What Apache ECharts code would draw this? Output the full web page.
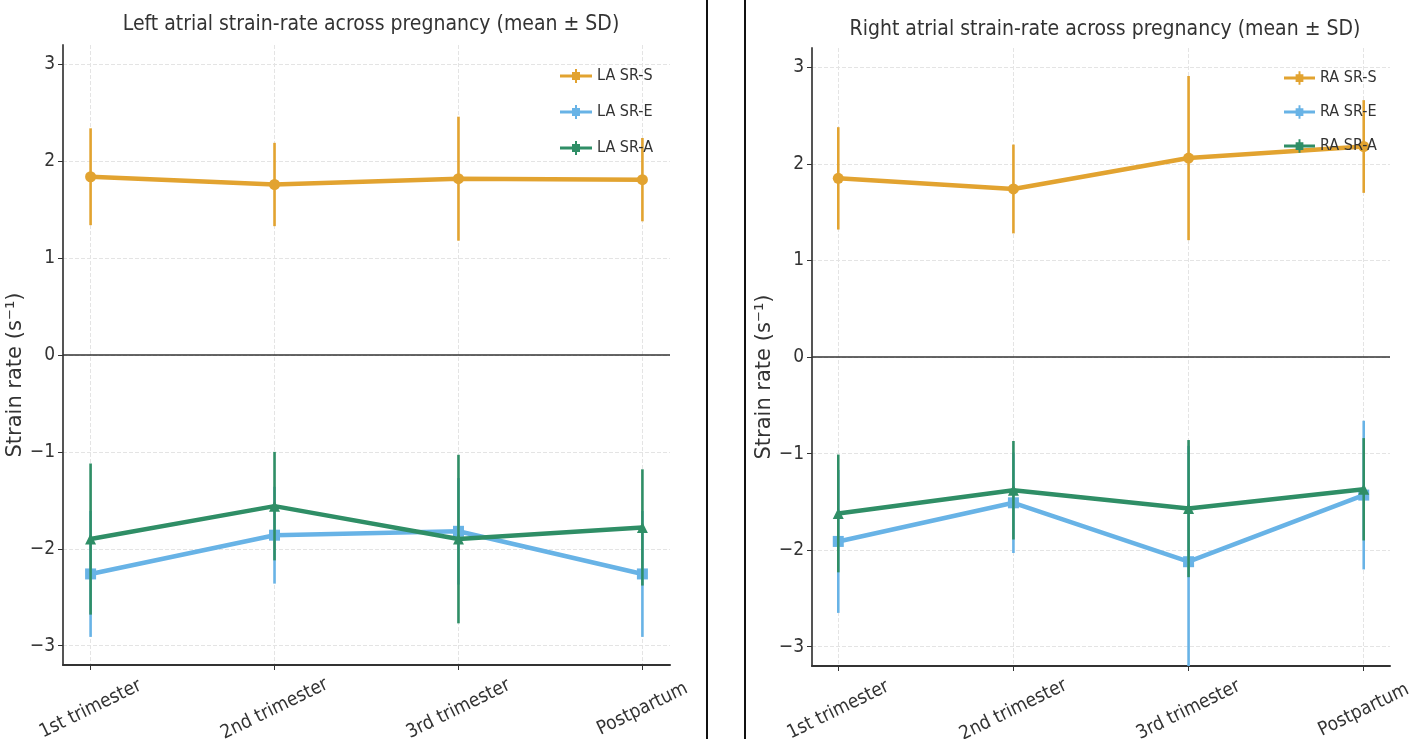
<!DOCTYPE html>
<html><head><meta charset="utf-8">
<script src="https://cdn.jsdelivr.net/npm/echarts@6/dist/echarts.min.js"></script>
<style>html,body{margin:0;padding:0;background:#fff}#c{width:1420px;height:739px}</style>
</head><body><div id="c"></div>
<script>
const categories = ['1st trimester','2nd trimester','3rd trimester','Postpartum'];
const yTicks = [-3,-2,-1,0,1,2,3];
const xTicks = [0,1,2,3];
const laNames = ['LA SR-S','LA SR-E','LA SR-A'];
const raNames = ['RA SR-S','RA SR-E','RA SR-A'];
const laS_mean = [1.84,1.76,1.82,1.81];
const laS_sd   = [0.50,0.43,0.64,0.43];
const laE_mean = [-2.26,-1.86,-1.82,-2.26];
const laE_sd   = [0.65,0.50,0.55,0.65];
const laA_mean = [-1.90,-1.56,-1.90,-1.78];
const laA_sd   = [0.78,0.56,0.87,0.60];
const raS_mean = [1.85,1.74,2.06,2.18];
const raS_sd   = [0.53,0.46,0.85,0.48];
const raE_mean = [-1.91,-1.51,-2.12,-1.43];
const raE_sd   = [0.74,0.52,1.20,0.77];
const raA_mean = [-1.62,-1.38,-1.57,-1.37];
const raA_sd   = [0.61,0.51,0.71,0.53];

const colors = ['#E2A330','#68B3E6','#2F8E66'];
const symbols = ['circle','rect','triangle'];
const condensed = "'DejaVu Sans Condensed','Liberation Sans Narrow','DejaVu Sans',sans-serif";
const Y_MIN = -3.2, Y_MAX = 3.2;
const legendIcon = 'path://M0,5.5L32,5.5L32,8.5L0,8.5Z M15,0L17,0L17,14L15,14Z M12,3L20,3L20,11L12,11Z';

function panelSeries(gi, names, means, sds) {
  const out = [];
  names.forEach((nm, k) => {
    const m = means[k], s = sds[k];
    out.push({
      type: 'custom', xAxisIndex: gi, yAxisIndex: gi, z: 2 + k * 2, silent: true,
      data: m.map((v, i) => [i, v - s[i], v + s[i]]),
      renderItem: (params, api) => {
        const x = api.value(0);
        const lo = Math.max(api.value(1), Y_MIN), hi = Math.min(api.value(2), Y_MAX);
        const p1 = api.coord([x, lo]), p2 = api.coord([x, hi]);
        return { type: 'line', shape: { x1: p1[0], y1: p1[1], x2: p2[0], y2: p2[1] },
                 style: { stroke: colors[k], lineWidth: 2.6 } };
      }
    });
    const line = {
      type: 'line', name: nm, xAxisIndex: gi, yAxisIndex: gi, z: 3 + k * 2,
      data: m.map((v, i) => [i, v]),
      symbol: symbols[k], symbolSize: 11, showSymbol: true,
      itemStyle: { color: colors[k] }, lineStyle: { color: colors[k], width: 4.5 },
      emphasis: { disabled: true }, silent: true, animation: false
    };
    if (k === 0) {
      line.markLine = { silent: true, symbol: 'none', label: { show: false },
        lineStyle: { color: '#333', width: 1.6, type: 'solid' }, data: [{ yAxis: 0 }] };
    }
    out.push(line);
  });
  return out;
}

function xAxis(gi) {
  return {
    type: 'value', gridIndex: gi, min: -0.15, max: 3.15,
    axisLine: { show: true, onZero: false, lineStyle: { color: '#333', width: 2 } },
    axisTick: { show: true, length: 5, customValues: xTicks, lineStyle: { color: '#333' } },
    axisLabel: { customValues: xTicks, formatter: v => categories[v], rotate: 26,
      align: 'center', verticalAlign: 'middle', margin: 44,
      fontFamily: condensed, fontSize: 19, color: '#333' },
    splitLine: { show: true, lineStyle: { color: '#e4e4e4', type: 'dashed', width: 1 } }
  };
}
function yAxis(gi, gap) {
  return {
    type: 'value', gridIndex: gi, min: Y_MIN, max: Y_MAX,
    name: 'Strain rate (s\u207B\u00B9)', nameLocation: 'middle', nameGap: gap, nameRotate: 90,
    nameTextStyle: { fontFamily: "'DejaVu Sans',sans-serif", fontSize: 21, color: '#333', padding: [0, 40, 0, 0] },
    axisLine: { show: true, onZero: false, lineStyle: { color: '#555', width: 2 } },
    axisTick: { show: true, length: 5, customValues: yTicks, lineStyle: { color: '#333' } },
    axisLabel: { customValues: yTicks, formatter: v => String(v).replace('-', '\u2212'),
      fontFamily: condensed, fontSize: 19, color: '#333', margin: 8 },
    splitLine: { show: true, lineStyle: { color: '#e4e4e4', type: 'dashed', width: 1 } }
  };
}

const chart = echarts.init(document.getElementById('c'));
chart.setOption({
  animation: false,
  backgroundColor: '#fff',
  color: colors,
  title: [
    { text: 'Left atrial strain-rate across pregnancy (mean \u00B1 SD)', left: 366, top: 9, textAlign: 'center',
      textStyle: { fontFamily: condensed, fontSize: 21, fontWeight: 'normal', color: '#333' } },
    { text: 'Right atrial strain-rate across pregnancy (mean \u00B1 SD)', left: 1100, top: 14, textAlign: 'center',
      textStyle: { fontFamily: condensed, fontSize: 21, fontWeight: 'normal', color: '#333' } }
  ],
  grid: [
    { left: 63, top: 45, width: 607, height: 620, outerBoundsMode: 'none', containLabel: false },
    { left: 812, top: 48, width: 578, height: 618, outerBoundsMode: 'none', containLabel: false }
  ],
  xAxis: [xAxis(0), xAxis(1)],
  yAxis: [yAxis(0, 32), yAxis(1, 26)],
  legend: [
    { data: laNames.map(n => ({ name: n, icon: legendIcon })), orient: 'vertical', left: 560, top: 68, padding: 0,
      itemWidth: 32, itemHeight: 14, itemGap: 20, selectedMode: false,
      textStyle: { fontFamily: condensed, fontSize: 16, color: '#333', lineHeight: 14 } },
    { data: raNames.map(n => ({ name: n, icon: legendIcon })), orient: 'vertical', left: 1284, top: 70, padding: 0,
      itemWidth: 31, itemHeight: 14, itemGap: 18, selectedMode: false,
      textStyle: { fontFamily: condensed, fontSize: 16, color: '#333', lineHeight: 14 } }
  ],
  graphic: [
    { type: 'line', shape: { x1: 707, y1: 0, x2: 707, y2: 739 }, style: { stroke: '#111', lineWidth: 2 }, silent: true },
    { type: 'line', shape: { x1: 745, y1: 0, x2: 745, y2: 739 }, style: { stroke: '#111', lineWidth: 2 }, silent: true }
  ],
  series: [
    ...panelSeries(0, laNames, [laS_mean, laE_mean, laA_mean], [laS_sd, laE_sd, laA_sd]),
    ...panelSeries(1, raNames, [raS_mean, raE_mean, raA_mean], [raS_sd, raE_sd, raA_sd])
  ]
});
</script></body></html>
